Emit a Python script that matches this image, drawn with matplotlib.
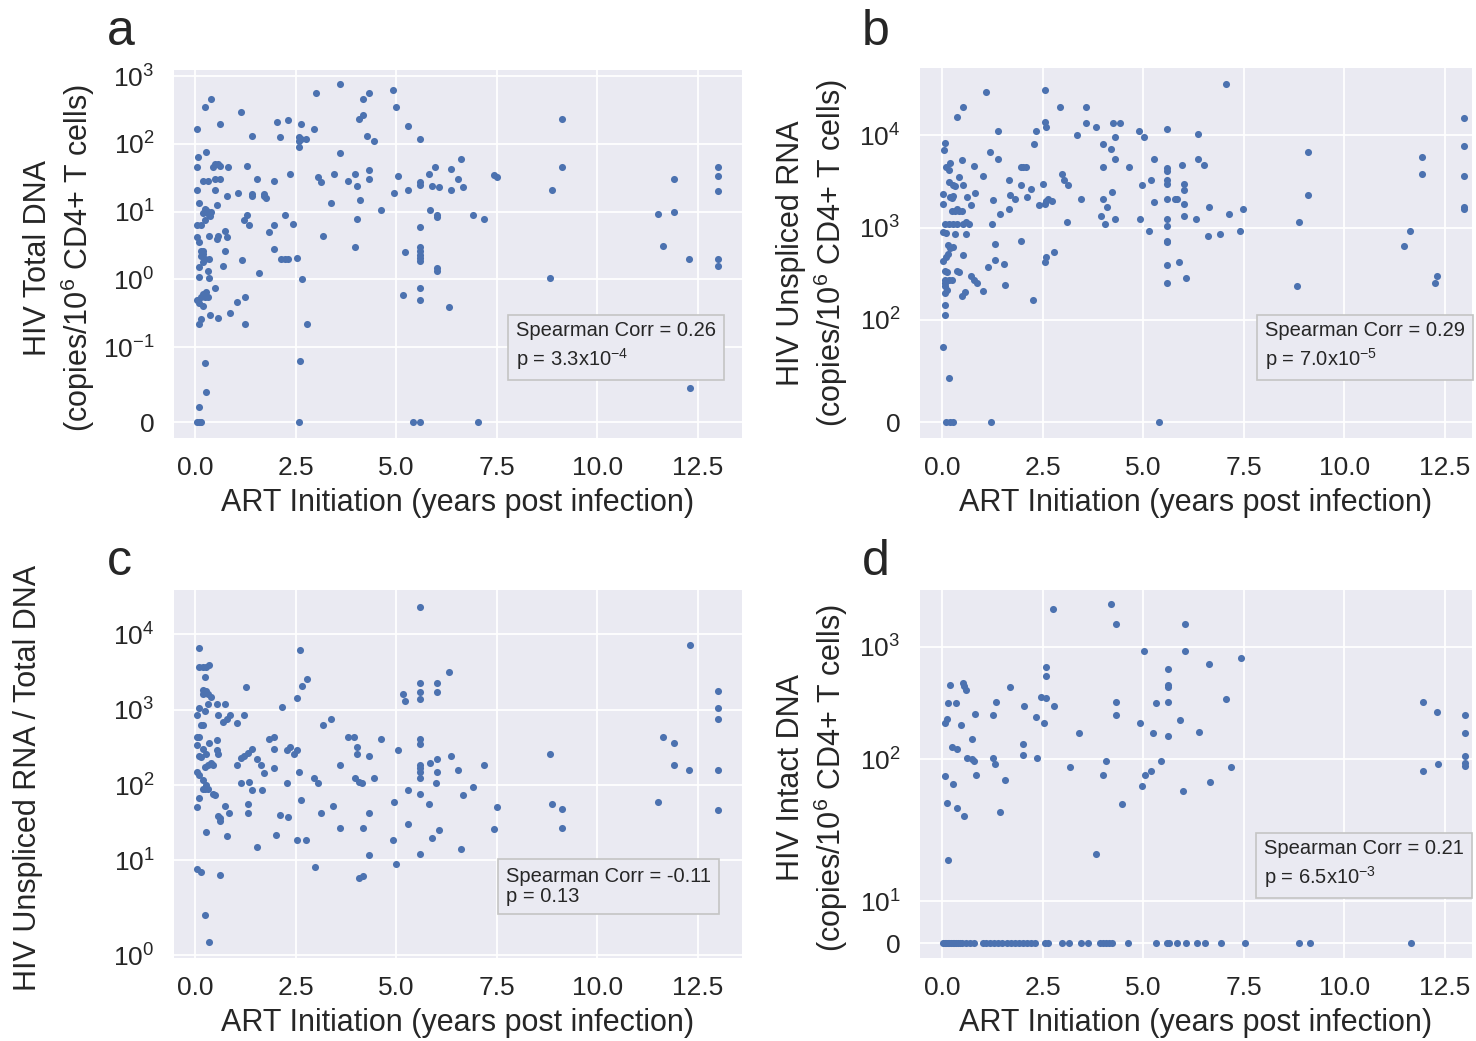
import numpy as np
import matplotlib
matplotlib.use("Agg")
import matplotlib.pyplot as plt

plt.style.use("seaborn-v0_8-darkgrid")
plt.rcParams["font.family"] = ["Liberation Sans", "DejaVu Sans"]
plt.rcParams["mathtext.fontset"] = "custom"
plt.rcParams["mathtext.rm"] = "Liberation Sans"
plt.rcParams["mathtext.it"] = "Liberation Sans:italic"
plt.rcParams["mathtext.bf"] = "Liberation Sans:bold"
plt.rcParams["text.color"] = "#262626"
plt.rcParams["axes.labelcolor"] = "#262626"
plt.rcParams["xtick.color"] = "#262626"
plt.rcParams["ytick.color"] = "#262626"
plt.rcParams["axes.facecolor"] = "#EAEAF2"
plt.rcParams["grid.color"] = "white"
plt.rcParams["grid.linewidth"] = 1.3

# (years post infection, value)
a_points = [
    (0.05, 166), (0.24, 355), (0.39, 470), (0.62, 200), (0.06, 65), (0.27, 77), (0.05, 46),
    (0.43, 46), (0.49, 51), (0.56, 51), (0.62, 48), (0.19, 28), (0.31, 28), (0.49, 30),
    (0.62, 30), (0.05, 21), (0.49, 21), (0.09, 13.3), (0.53, 12.5), (0.24, 11), (0.31, 10),
    (0.39, 10), (0.35, 9), (0.27, 10.5), (0.20, 9.5), (0.37, 8.5), (0.05, 6.3), (0.15, 6.3),
    (0.23, 7.5), (0.35, 4.4), (0.53, 3.9), (0.57, 4.4), (0.05, 4.2), (0.09, 3.6), (0.13, 2.6),
    (0.19, 2.6), (0.19, 2.4), (0.13, 2.2), (0.23, 2.0), (0.35, 2.0), (0.09, 1.5), (0.19, 1.8),
    (0.31, 1.33), (0.35, 1.05), (0.09, 1.1), (0.05, 0.5), (0.13, 0.55), (0.19, 0.6),
    (0.23, 0.55), (0.31, 0.55), (0.27, 0.65), (0.09, 0.45), (0.19, 0.4), (0.49, 0.74),
    (0.09, 0.22), (0.15, 0.26), (0.36, 0.30), (0.57, 0.27), (0.25, 0.079), (0.27, 0.04),
    (0.09, 0.02), (0.05, 0), (0.1, 0), (0.15, 0), (0.12, 0),
    (0.69, 1.6), (0.75, 2.6), (0.75, 5.2), (0.79, 4.2), (0.79, 17), (0.82, 46), (0.87, 0.32),
    (1.04, 0.46), (1.05, 19), (1.13, 300), (1.17, 1.9), (1.22, 7.5), (1.24, 0.55), (1.24, 0.22),
    (1.29, 48), (1.29, 8.9), (1.33, 6.3), (1.42, 133), (1.42, 18), (1.42, 17), (1.54, 30),
    (1.59, 1.26), (1.70, 18), (1.72, 17), (1.75, 16), (1.84, 5.0), (1.97, 28), (1.97, 2.8),
    (1.97, 6.3), (2.02, 212), (2.11, 125), (2.12, 2.0), (2.22, 2.0), (2.30, 2.0), (2.23, 8.9),
    (2.31, 224), (2.36, 36), (2.44, 6.6), (2.53, 2.1), (2.57, 125), (2.57, 112), (2.57, 90),
    (2.62, 118), (2.62, 200), (2.75, 118), (2.65, 1.0), (2.6, 0.081), (2.79, 0.22), (2.57, 0),
    (2.95, 166), (3.0, 565), (3.05, 32), (3.13, 27), (3.17, 4.4), (3.37, 13.3), (3.46, 36),
    (3.6, 760), (3.6, 73), (3.8, 28), (3.98, 36), (3.98, 3.0), (4.02, 24), (4.02, 7.8),
    (4.06, 235), (4.18, 265), (4.18, 470), (4.1, 15), (4.27, 133), (4.32, 565), (4.32, 41),
    (4.32, 30), (4.44, 112), (4.62, 10.6), (4.91, 635), (4.95, 19), (5.0, 355), (5.04, 34),
    (5.17, 0.58), (5.21, 2.5), (5.29, 186), (5.29, 21), (5.59, 118), (5.59, 27), (5.59, 25),
    (5.59, 5.9), (5.59, 2.97), (5.59, 2.6), (5.59, 2.3), (5.59, 2.1), (5.59, 1.85),
    (5.59, 0.74), (5.59, 0.49), (5.41, 0), (5.59, 0), (5.82, 36), (5.88, 24), (5.84, 10.5),
    (5.97, 46), (6.02, 8.9), (6.02, 8.4), (6.02, 1.48), (6.02, 1.32), (6.06, 23), (6.31, 0.39),
    (6.36, 43), (6.36, 21), (6.53, 30), (6.65, 23), (6.61, 61), (6.91, 8.9), (7.17, 7.8),
    (7.03, 0), (7.44, 35), (7.5, 32), (8.83, 1.05), (8.87, 21), (9.13, 46), (9.13, 235),
    (11.5, 9.3), (11.63, 3.1), (11.92, 30), (11.92, 10), (12.27, 2.0), (12.31, 0.045),
    (13.0, 46), (13.0, 34), (13.0, 20), (13.0, 2.0), (13.0, 1.6),
]

b_points = [
    (7.06, 36000), (1.10, 30000), (2.55, 31500), (0.51, 20500), (0.38, 16000), (2.94, 20500),
    (3.57, 20500), (3.57, 13600), (3.82, 12300), (4.25, 13600), (4.43, 13600), (2.55, 14000),
    (2.59, 12300), (2.34, 11300), (1.40, 11300), (4.9, 11300), (5.58, 11800), (6.35, 10400),
    (4.3, 9600), (5.01, 9600), (3.36, 10000), (2.28, 8100), (4.01, 8100), (4.2, 7100),
    (12.98, 15500), (12.98, 7700), (12.98, 3600), (12.98, 1680), (12.98, 1600),
    (9.1, 6600), (9.1, 2240), (8.86, 1140), (8.81, 230), (11.92, 5800), (11.92, 3800),
    (11.62, 920), (11.49, 630), (12.3, 300), (12.25, 250),
    (0.04, 7000), (0.07, 8200), (0.03, 1800), (0.03, 2300), (0.1, 4500), (0.2, 5000),
    (0.16, 4200), (0.49, 5400), (0.78, 4700), (0.41, 3500), (0.16, 3100), (0.28, 2900),
    (0.33, 2800), (0.51, 2900), (0.28, 2200), (0.24, 2100), (0.2, 2150), (0.63, 2150),
    (0.72, 1750), (0.82, 2350), (0.24, 1500), (0.32, 1500), (0.41, 1500), (0.49, 1500),
    (0.36, 1600), (0.07, 1100), (0.16, 1100), (0.28, 1100), (0.36, 1100), (0.53, 1100),
    (0.66, 1100), (0.59, 1150), (0.03, 900), (0.1, 870), (0.32, 850), (0.59, 850),
    (0.15, 650), (0.2, 600), (0.28, 620), (0.51, 500), (0.03, 430), (0.1, 480), (0.15, 520),
    (0.07, 340), (0.11, 330), (0.36, 340), (0.41, 330), (0.07, 270), (0.07, 250), (0.07, 230),
    (0.11, 210), (0.07, 195), (0.16, 270), (0.24, 270), (0.49, 180), (0.56, 200), (0.72, 300),
    (0.78, 270), (0.86, 250), (1.02, 205), (0.07, 146), (0.07, 112), (0.03, 73), (0.16, 43),
    (0.1, 0), (0.2, 0), (0.28, 0), (1.22, 0), (5.39, 0),
    (1.02, 3600), (1.19, 6600), (1.40, 5500), (1.27, 2000), (1.23, 1100), (1.31, 660),
    (1.31, 450), (1.15, 370), (1.53, 400), (1.56, 240), (1.44, 1400), (1.65, 1600),
    (1.65, 3300), (1.69, 2250), (1.82, 2050), (1.95, 2900), (1.95, 710), (1.95, 4600),
    (2.02, 4600), (2.08, 4600), (2.11, 2150), (2.21, 2650), (2.26, 165), (2.42, 1750),
    (2.51, 3000), (2.55, 1800), (2.59, 1950), (2.63, 2050), (2.72, 1950), (2.55, 420),
    (2.59, 480), (2.77, 540), (2.98, 3800), (3.02, 3300), (3.13, 2900), (3.1, 1140),
    (3.44, 2050), (3.95, 1350), (4.04, 1100), (4.01, 2050), (4.09, 1680), (4.01, 4600),
    (4.21, 2450), (4.3, 1240), (4.3, 5500), (4.64, 4600), (4.93, 1240), (4.98, 2900),
    (5.14, 920), (5.19, 3300), (5.27, 1900), (5.27, 5500), (5.58, 4400), (5.58, 4100),
    (5.58, 3300), (5.58, 3000), (5.58, 2050), (5.58, 1240), (5.58, 1040), (5.58, 710),
    (5.58, 690), (5.58, 390), (5.58, 250), (5.79, 2050), (5.84, 2050), (5.88, 420),
    (5.95, 4800), (6.0, 3000), (6.0, 2550), (6.0, 1800), (6.0, 1350), (6.05, 285),
    (6.3, 1240), (6.35, 5500), (6.5, 4800), (6.6, 810), (6.64, 1680), (6.9, 850),
    (7.14, 1400), (7.4, 920), (7.49, 1600),
]

c_points = [
    (5.59, 23000), (12.31, 7300), (0.1, 6600), (2.61, 6300), (0.1, 3700), (0.19, 3700),
    (0.27, 3700), (0.35, 3900), (0.23, 2700), (0.19, 1850), (0.27, 1780), (0.31, 1600),
    (0.39, 1500), (0.19, 1600), (0.31, 1180), (0.05, 860), (0.1, 1050), (0.23, 950),
    (0.15, 630), (0.19, 630), (0.05, 440), (0.1, 440), (0.05, 340), (0.1, 245), (0.15, 235),
    (0.19, 305), (0.35, 360), (0.53, 400), (0.27, 260), (0.53, 290), (0.57, 260), (0.31, 185),
    (0.39, 195), (0.44, 185), (0.23, 175), (0.05, 150), (0.09, 135), (0.19, 116), (0.27, 100),
    (0.19, 90), (0.31, 90), (0.23, 88), (0.44, 77), (0.49, 74), (0.09, 67), (0.05, 51),
    (0.27, 24), (0.05, 7.7), (0.15, 7.0), (0.23, 2.45), (0.35, 1.47),
    (0.53, 1180), (0.57, 860), (0.74, 1180), (0.87, 860), (0.70, 690), (0.78, 760),
    (1.04, 660), (1.22, 860), (1.26, 2000), (0.61, 37), (0.61, 33), (0.57, 39), (0.83, 43),
    (0.74, 52), (0.79, 21), (0.61, 6.3), (1.04, 185), (1.13, 230), (1.22, 245), (1.30, 270),
    (1.42, 300), (1.13, 105), (1.34, 110), (1.42, 85), (1.30, 56), (1.30, 42), (1.54, 220),
    (1.64, 185), (1.71, 145), (1.67, 85), (1.54, 15), (1.84, 410), (1.97, 430), (1.97, 300),
    (1.97, 170), (2.11, 40), (2.01, 21.5), (2.27, 105), (2.31, 38), (2.27, 290), (2.15, 1100),
    (2.36, 320), (2.45, 260), (2.53, 290), (2.57, 150), (2.62, 63), (2.53, 18.5), (2.75, 18.5),
    (2.53, 1450), (2.66, 2100), (2.79, 2550), (2.95, 123), (3.05, 105), (3.13, 42), (2.99, 8.1),
    (3.17, 630), (3.37, 760), (3.42, 52), (3.6, 185), (3.6, 27), (3.8, 430), (3.94, 430),
    (4.02, 320), (4.02, 260), (3.98, 123), (4.06, 110), (4.15, 105), (4.06, 5.9), (4.18, 6.2),
    (4.32, 245), (4.32, 42), (4.32, 11.8), (4.18, 27), (4.44, 123), (4.62, 410), (4.91, 18.5),
    (4.95, 59), (4.99, 9.0), (5.04, 290), (5.17, 1600), (5.21, 1300), (5.29, 85), (5.29, 30),
    (5.59, 2300), (5.59, 1700), (5.59, 1380), (5.59, 410), (5.59, 350), (5.59, 185),
    (5.59, 170), (5.59, 150), (5.59, 123), (5.59, 77), (5.59, 12.3), (5.82, 56), (5.84, 195),
    (5.89, 20), (5.98, 105), (6.02, 220), (6.02, 150), (6.06, 25), (6.02, 2300), (6.02, 1700),
    (6.31, 3150), (6.36, 245), (6.53, 160), (6.66, 74), (6.61, 14.2), (6.91, 94), (7.17, 185),
    (7.44, 26), (7.51, 51), (8.83, 260), (8.87, 56), (9.13, 48), (9.13, 27), (11.5, 60),
    (11.63, 430), (11.92, 360), (11.92, 185), (12.27, 160), (13.0, 1780), (13.0, 1050),
    (13.0, 760), (13.0, 160), (13.0, 46),
]

d_points = [
    (4.2, 2400), (2.76, 2150), (4.33, 1580), (6.03, 1580), (5.01, 910), (6.03, 910),
    (7.44, 790), (6.63, 700), (2.57, 660), (2.57, 550), (5.62, 635), (5.62, 455), (5.62, 440),
    (0.2, 455), (0.51, 475), (0.55, 445), (0.6, 415), (1.69, 440), (0.15, 315), (0.34, 315),
    (1.35, 325), (2.04, 295), (2.79, 295), (2.46, 360), (2.57, 350), (4.33, 325), (4.33, 245),
    (5.31, 315), (5.61, 325), (7.05, 340), (0.07, 210), (0.11, 230), (0.47, 200), (0.81, 255),
    (1.27, 245), (2.33, 240), (2.54, 210), (4.93, 210), (5.9, 225), (11.95, 325), (12.29, 265),
    (13.0, 245), (13.0, 170), (13.0, 107), (13.0, 93), (13.0, 87), (11.95, 78), (12.33, 90),
    (0.24, 128), (0.38, 123), (0.63, 103), (0.75, 100), (0.8, 97), (0.75, 150), (0.85, 73),
    (0.07, 71), (0.11, 41), (0.28, 60), (0.38, 37), (0.55, 31), (0.15, 20), (1.27, 103),
    (1.31, 90), (1.43, 34), (1.57, 65), (2.0, 137), (2.0, 110), (2.37, 103), (3.18, 85),
    (3.4, 170), (3.83, 21.4), (3.99, 73), (4.08, 96), (4.46, 40), (4.97, 58), (5.05, 73),
    (5.18, 78), (5.23, 170), (5.43, 96), (5.62, 162), (5.99, 52), (6.38, 175), (6.67, 63),
    (7.18, 85),
    (0.02, 0), (0.06, 0), (0.1, 0), (0.14, 0), (0.18, 0), (0.22, 0), (0.26, 0), (0.3, 0),
    (0.35, 0), (0.4, 0), (0.45, 0), (0.5, 0), (0.6, 0), (0.7, 0), (0.78, 0), (1.02, 0),
    (1.1, 0), (1.18, 0), (1.3, 0), (1.4, 0), (1.5, 0), (1.6, 0), (1.7, 0), (1.8, 0), (1.9, 0),
    (2.0, 0), (2.1, 0), (2.2, 0), (2.3, 0), (2.55, 0), (2.63, 0), (2.97, 0), (3.16, 0),
    (3.44, 0), (3.62, 0), (3.93, 0), (4.0, 0), (4.08, 0), (4.15, 0), (4.23, 0), (4.63, 0),
    (5.31, 0), (5.6, 0), (5.64, 0), (5.85, 0), (6.05, 0), (6.33, 0), (6.53, 0), (6.93, 0),
    (7.52, 0), (8.87, 0), (9.15, 0), (11.65, 0),
]

ylabels = [
    "HIV Total DNA\n(copies/10$^{6}$ CD4+ T cells)",
    "HIV Unspliced RNA\n(copies/10$^{6}$ CD4+ T cells)",
    "HIV Unspliced RNA / Total DNA",
    "HIV Intact DNA\n(copies/10$^{6}$ CD4+ T cells)",
]
stats = [
    "Spearman Corr = 0.26\np = 3.3x10$^{-4}$",
    "Spearman Corr = 0.29\np = 7.0x10$^{-5}$",
    "Spearman Corr = -0.11\np = 0.13",
    "Spearman Corr = 0.21\np = 6.5x10$^{-3}$",
]
letters = ["a", "b", "c", "d"]
yticks = [[0, 0.1, 1, 10, 100, 1000], [0, 100, 1000, 10000],
          [1, 10, 100, 1000, 10000], [0, 10, 100, 1000]]

fig = plt.figure(figsize=(14.76, 10.41), dpi=100)
W, H = 1476, 1041

# panel settings: axes box in pixels, symlog threshold, limits, label/box placement
panels = [
    dict(pts=a_points, box=(174, 70, 742, 438), lt=0.1, ylim=(-0.021, 1240), xlim=(-0.53, 13.6),
         lab=(-0.136, 0.49), txt=(0.602, 0.179), ls=1.3, let=(107, 45)),
    dict(pts=b_points, box=(920, 68, 1472, 438), lt=100, ylim=(-15.6, 54000), xlim=(-0.55, 13.17),
         lab=(-0.127, 0.5), txt=(0.625, 0.179), ls=1.3, let=(862, 45)),
    dict(pts=c_points, box=(174, 590, 742, 958), lt=3, ylim=(0.91, 39000), xlim=(-0.53, 13.6),
         lab=(-0.231, 0.49), txt=(0.585, 0.141), ls=1.05, let=(107, 575)),
    dict(pts=d_points, box=(920, 590, 1472, 958), lt=30, ylim=(-3.6, 3200), xlim=(-0.55, 13.17),
         lab=(-0.127, 0.49), txt=(0.623, 0.185), ls=1.3, let=(862, 575)),
]

for i, p in enumerate(panels):
    x0, y0, x1, y1 = p["box"]
    ax = fig.add_axes([x0 / W, 1 - y1 / H, (x1 - x0) / W, (y1 - y0) / H])
    pts = np.array(p["pts"], dtype=float)
    ax.scatter(pts[:, 0], pts[:, 1], s=26, color="#4C72B0", linewidths=0, zorder=3)
    ax.set_yscale("symlog", linthresh=p["lt"], linscale=1)
    ax.set_ylim(*p["ylim"])
    ax.set_xlim(*p["xlim"])
    ax.set_yticks(yticks[i])
    ax.set_xticks(np.arange(0, 13, 2.5))
    ax.yaxis.set_minor_locator(matplotlib.ticker.NullLocator())
    ax.tick_params(axis="both", labelsize=19, length=0)
    ax.tick_params(axis="y", pad=14)
    ax.tick_params(axis="x", pad=13)
    for s in ax.spines.values():
        s.set_visible(False)
    ax.set_xlabel("ART Initiation (years post infection)", fontsize=22, labelpad=6)
    ax.set_ylabel(ylabels[i], fontsize=22)
    ax.yaxis.set_label_coords(*p["lab"])
    ax.text(p["txt"][0], p["txt"][1], stats[i], transform=ax.transAxes, fontsize=14.5,
            ha="left", va="bottom", linespacing=p["ls"], zorder=5,
            bbox=dict(boxstyle="square,pad=0.4", facecolor="#EAEAF2", edgecolor="#c4c4c4", lw=1.2))
    fig.text(p["let"][0] / W, 1 - p["let"][1] / H, letters[i], fontsize=36,
             ha="left", va="baseline", color="#262626")

fig.savefig("out.png", dpi=100)
